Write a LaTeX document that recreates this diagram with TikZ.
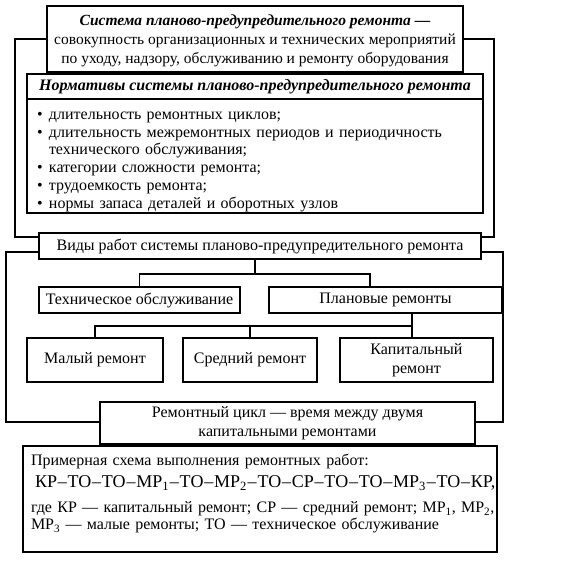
\documentclass[tikz,border=0pt]{standalone}
\usepackage{fontspec}
\setmainfont{Liberation Serif}
\usetikzlibrary{positioning,calc}

\tikzset{
  box/.style={draw, line width=1.7pt, fill=white, align=center, inner sep=0pt},
  frame/.style={draw, line width=1.7pt},
  link/.style={line width=1.7pt},
}
\newcommand{\bul}{\makebox[12pt][l]{\textbullet}}
\newcommand{\dd}{\kern0.8pt–\kern0.8pt}

\begin{document}
\begin{tikzpicture}[x=1pt,y=-1pt,font=\fontsize{16}{19}\selectfont]
\useasboundingbox (0,0) rectangle (573,565);
% рамки
\node[frame, minimum width=479, minimum height=198] (frameA) at (254.5,138) {};
\node[frame, minimum width=497, minimum height=170] (frameB) at (254.5,337) {};
% блоки
\node[box, minimum width=416, minimum height=66, font=\fontsize{15.5}{19}\selectfont] (sys) at (255,39)
  {\rule{0pt}{14pt}\textbf{\textit{Система планово-предупредительного ремонта —}}\\
   совокупность организационных и технических мероприятий\\
   по уходу, надзору, обслуживанию и ремонту оборудования};
\node[box, minimum width=456, minimum height=25] (normhead) at (255,86.5)
  {\textbf{\textit{Нормативы системы планово-предупредительного ремонта}}};
\node[box, minimum width=456, minimum height=114, text width=436, align=left,
  font=\fontsize{16}{17.8}\selectfont] (normlist) at (255,156)
  {\rule{0pt}{19pt}\bul длительность ремонтных циклов;\\
   \bul длительность межремонтных периодов и периодичность\\
   \hspace*{12pt}технического обслуживания;\\
   \bul категории сложности ремонта;\\
   \bul трудоемкость ремонта;\\
   \bul нормы запаса деталей и оборотных узлов};
\node[box, minimum width=442, minimum height=26] (vidy) at (260,246)
  {Виды работ системы планово-предупредительного ремонта};
\node[box, minimum width=201, minimum height=26] (to) at (139.5,300) {Техническое обслуживание};
\node[box, minimum width=233, minimum height=26] (plan) at (385.5,300) {Плановые ремонты};
\node[box, minimum width=136, minimum height=44] (maly) at (95,360) {Малый ремонт};
\node[box, minimum width=134, minimum height=44] (sred) at (250,360) {Средний ремонт};
\node[box, minimum width=153, minimum height=44] (kap) at (416.5,360) {Капитальный\\ремонт};
\node[box, minimum width=375, minimum height=42] (cycle) at (287.5,423)
  {Ремонтный цикл — время между двумя\\капитальными ремонтами};
\node[box, minimum width=474, minimum height=106, text width=458, align=left] (scheme) at (260,499)
  {Примерная схема выполнения ремонтных работ:\\[3pt]
   \mbox{\fontsize{18}{19}\selectfont\kern4pt КР\dd ТО\dd ТО\dd МР\textsubscript{1}\dd ТО\dd МР\textsubscript{2}\dd ТО\dd СР\dd ТО\dd ТО\dd МР\textsubscript{3}\dd ТО\dd КР,}\\[6pt]
   \mbox{где КР — капитальный ремонт; СР — средний ремонт; МР\textsubscript{1}, МР\textsubscript{2},}\\[-2pt]
   МР\textsubscript{3} — малые ремонты; ТО — техническое обслуживание\rule[-14pt]{0pt}{14pt}};
% связи
\coordinate (j1) at (255,274);
\coordinate (j2) at (412,326);
\draw[link] (vidy.south -| j1) -- (j1);
\draw[link] (to.north) |- (j1) -| ([xshift=-15.5pt]plan.north);
\draw[link] (plan.south -| j2) -- (kap.north -| j2);
\draw[link] (maly.north) |- (j2);
\draw[link] (sred.north) -- (sred.north |- j2);
\end{tikzpicture}
\end{document}
